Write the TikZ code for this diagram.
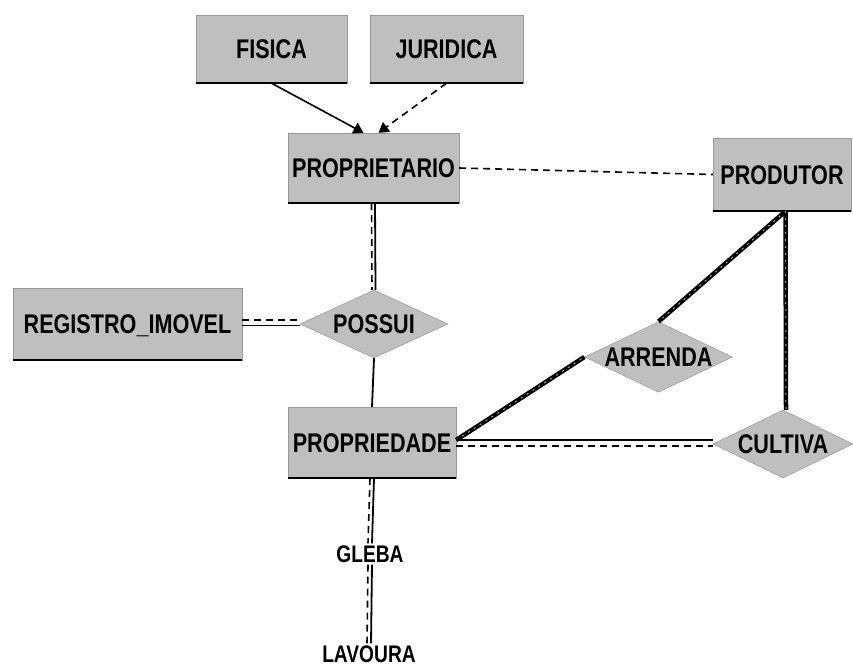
\documentclass[tikz,border=0pt]{standalone}
\usepackage{fontspec}
\newfontfamily\erfont[FakeStretch=0.8]{Liberation Sans}
\usetikzlibrary{shapes.geometric,arrows.meta}
\tikzset{
  entidade/.style={rectangle, fill=black!25, draw=black!40, inner sep=0pt,
    text height=19pt, text depth=0pt, font=\erfont\bfseries\fontsize{27}{29}\selectfont},
  relacao/.style={diamond, aspect=2.1, fill=black!25, draw=black!45, inner sep=0pt,
    text height=19pt, text depth=0pt, font=\erfont\bfseries\fontsize{27}{29}\selectfont},
  rotulo/.style={inner sep=2pt, text height=17pt, text depth=0pt,
    font=\erfont\bfseries\fontsize{24}{26}\selectfont},
  ligacao/.style={line width=1.8pt},
  tracejada/.style={line width=1.6pt, dash pattern=on 7pt off 5pt},
  seta/.style={-{Triangle[length=10pt,width=12pt]}, line width=1.6pt},
  grossa/.style={line width=4.5pt, postaction={draw=black!35, line width=1pt, dash pattern=on 2pt off 5pt}}
}
\begin{document}
\begin{tikzpicture}[x=1pt,y=-1pt]
        \useasboundingbox (0,0) rectangle (853,666);
        \node[entidade, minimum width=151pt, minimum height=68pt] (fisica) at (271.5,49) {FISICA};
        \node[entidade, minimum width=153pt, minimum height=68pt] (juridica) at (446.5,49) {JURIDICA};
        \node[entidade, minimum width=171pt, minimum height=70pt] (proprietario) at (373.5,168) {PROPRIETARIO};
        \node[entidade, minimum width=138pt, minimum height=73pt] (produtor) at (782,174.5) {PRODUTOR};
        \node[entidade, minimum width=229pt, minimum height=72pt] (registro) at (127.5,324) {REGISTRO\_IMOVEL};
        \node[entidade, minimum width=168pt, minimum height=71pt] (propriedade) at (372,442.5) {PROPRIEDADE};
        \node[relacao, minimum width=148pt, minimum height=68pt] (possui) at (374,324) {POSSUI};
        \node[relacao, minimum width=147pt, minimum height=70pt] (arrenda) at (658.5,357) {ARRENDA};
        \node[relacao, minimum width=140pt, minimum height=68pt] (cultiva) at (783,444) {CULTIVA};
        \node[rotulo] (gleba) at (370,554) {GLEBA};
        \node[rotulo] (lavoura) at (369,654) {LAVOURA};
        \foreach \n in {fisica,juridica,proprietario,produtor,registro,propriedade}
            \draw[line width=2.2pt] (\n.south west) -- (\n.south east);
        \draw[seta] (fisica.south) -- ([xshift=-10pt]proprietario.north);
        \draw[seta, dash pattern=on 7pt off 5pt] (juridica.south) -- ([xshift=5pt]proprietario.north);
        \draw[tracejada] (proprietario.east) -- (produtor.west);
        \draw[ligacao] ([xshift=1.5pt]proprietario.south) -- ([xshift=1.5pt]possui.north);
        \draw[tracejada] ([xshift=-2pt]proprietario.south) -- ([xshift=-2pt]possui.north);
        \draw[ligacao] ([yshift=-1.5pt]registro.east) -- ([yshift=-1.5pt]possui.west);
        \draw[tracejada] ([yshift=4pt]registro.east) -- ([yshift=4pt]possui.west);
        \draw[ligacao] (possui.south) -- (propriedade.north);
        \draw[grossa] ([yshift=2.5pt]propriedade.east) -- (arrenda.west);
        \draw[grossa] ([xshift=3.5pt]produtor.south) -- (arrenda.north);
        \draw[grossa] ([xshift=3.5pt]produtor.south) -- ([xshift=3pt]cultiva.north);
        \draw[ligacao] ([yshift=2.5pt]propriedade.east) -- ([yshift=4pt]cultiva.west);
        \draw[tracejada] ([yshift=-3.5pt]propriedade.east) -- ([yshift=-2pt]cultiva.west);
        \draw[ligacao] ([xshift=2pt]propriedade.south) -- ([xshift=2pt]gleba.north);
        \draw[tracejada] ([xshift=-2pt]propriedade.south) -- ([xshift=-2pt]gleba.north);
        \draw[ligacao] ([xshift=2pt]gleba.south) -- ([xshift=2pt]lavoura.north);
        \draw[tracejada] ([xshift=-2pt]gleba.south) -- ([xshift=-2pt]lavoura.north);
\end{tikzpicture}
\end{document}
